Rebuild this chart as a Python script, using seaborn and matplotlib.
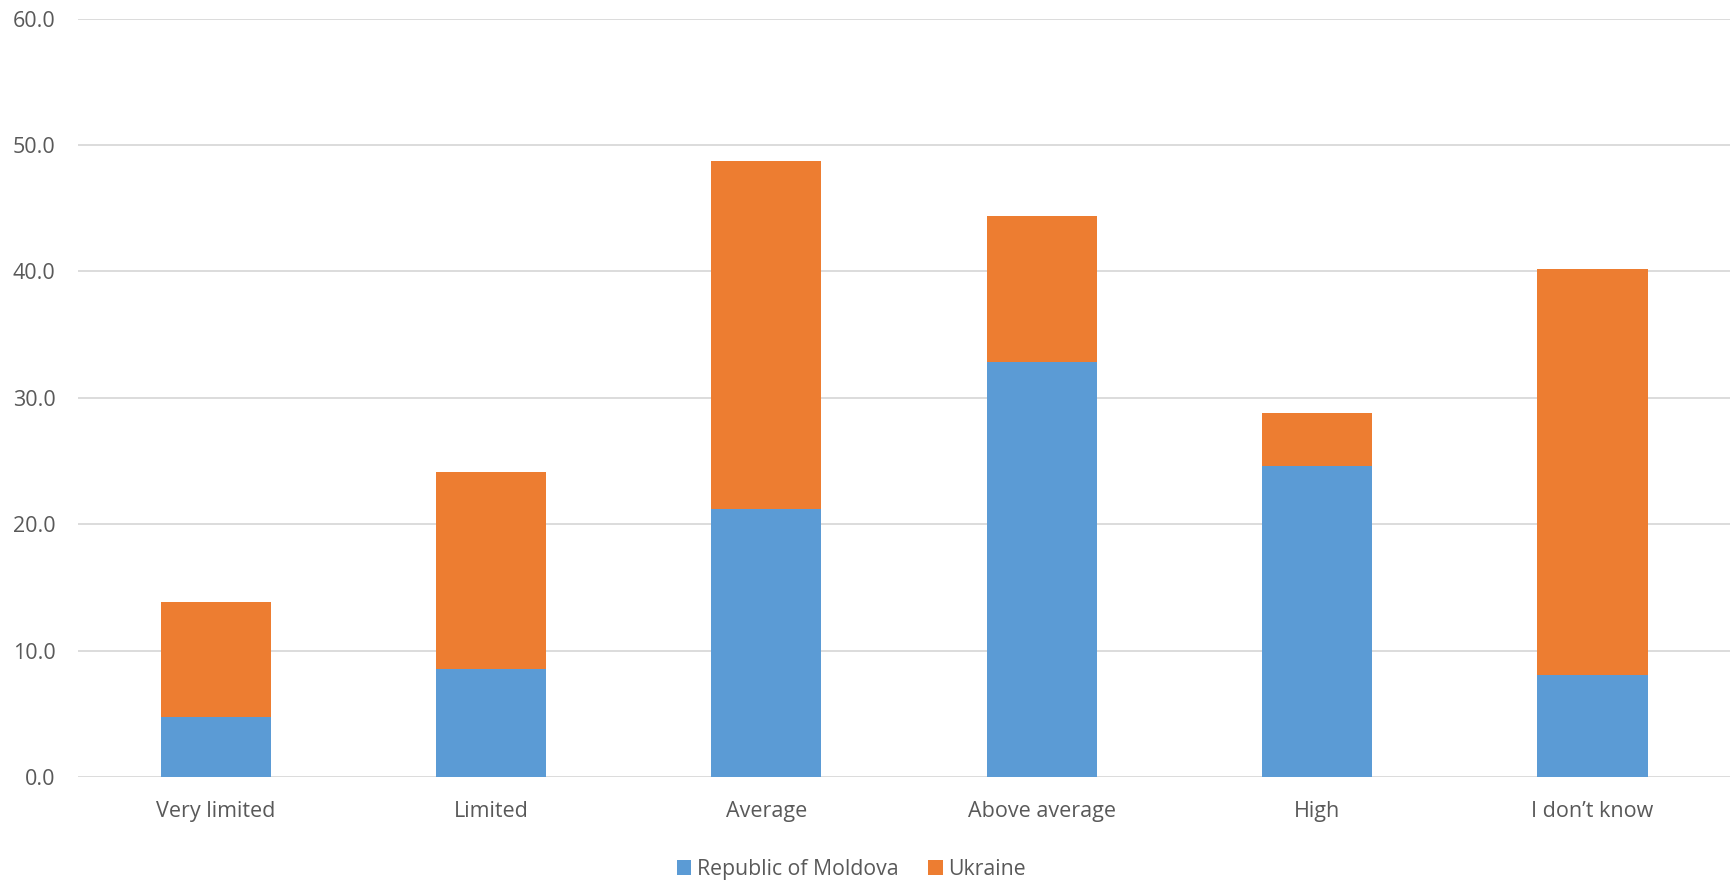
import numpy as np
import pandas as pd
import matplotlib.pyplot as plt
import seaborn as sns

categories = ["Very limited", "Limited", "Average", "Above average", "High", "I don\u2019t know"]
moldova = [4.75, 8.55, 21.2, 32.8, 24.6, 8.05]
ukraine = [9.1, 15.6, 27.5, 11.6, 4.2, 32.1]

blue = "#5b9bd5"
orange = "#ed7d31"
grey = "#595959"

sns.set_theme(style="white")
plt.rcParams["font.family"] = ["Open Sans", "DejaVu Sans"]

df = pd.DataFrame({"cat": categories, "md": moldova, "ua": ukraine})
df["total"] = df["md"] + df["ua"]

fig, ax = plt.subplots(figsize=(17.32, 8.83), dpi=100)
fig.subplots_adjust(left=0.045, right=0.999, top=0.979, bottom=0.12)

# stacked: total in orange first, Moldova over it
sns.barplot(data=df, x="cat", y="total", color=orange, width=0.4,
            saturation=1, ax=ax, label="Ukraine", zorder=3, linewidth=0)
sns.barplot(data=df, x="cat", y="md", color=blue, width=0.4,
            saturation=1, ax=ax, label="Republic of Moldova", zorder=3, linewidth=0)

ax.set_ylim(0, 60)
ax.set_yticks(np.arange(0, 61, 10))
ax.set_yticklabels([f"{v:.1f}" for v in np.arange(0, 61, 10)])
ax.grid(axis="y", color="#d9d9d9", linewidth=1.3, zorder=0)
ax.set_xlabel("")
ax.set_ylabel("")
for s in ax.spines.values():
    s.set_visible(False)
ax.tick_params(axis="both", length=0, labelsize=15.5, colors=grey)
ax.tick_params(axis="x", pad=17)
ax.tick_params(axis="y", pad=16)

handles, labels = ax.get_legend_handles_labels()
order = [labels.index("Republic of Moldova"), labels.index("Ukraine")]
ax.legend([handles[i] for i in order], [labels[i] for i in order],
          loc="upper center", bbox_to_anchor=(0.468, -0.083), ncol=2,
          frameon=False, fontsize=15.3, labelcolor=grey,
          handlelength=0.7, handleheight=0.7, handletextpad=0.25, columnspacing=1.4)

fig.savefig("out.png", dpi=100)
